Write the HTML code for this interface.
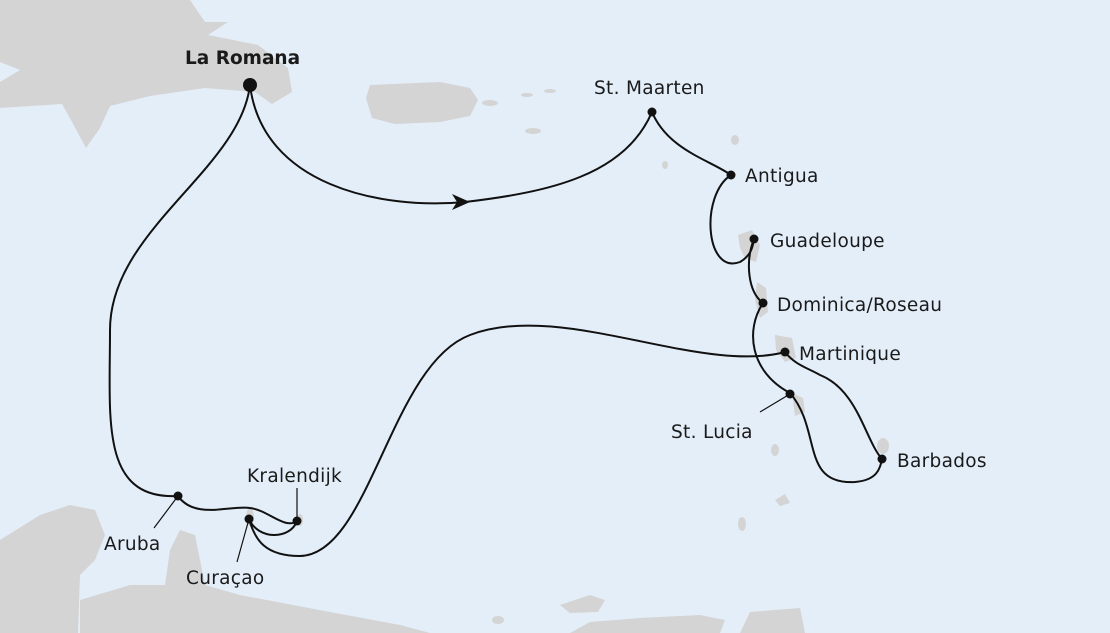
<!DOCTYPE html>
<html><head><meta charset="utf-8"><style>
html,body{margin:0;padding:0;background:#e4eef9}
svg{display:block}
text{font-family:"DejaVu Sans","Liberation Sans",sans-serif;font-size:18.5px;fill:#1a1a1a;letter-spacing:0.3px}
</style></head><body>
<svg width="1110" height="633" viewBox="0 0 1110 633">
<rect width="1110" height="633" fill="#e4eef9"/>
<g fill="#d4d4d4">
<path d="M0,0 L190,0 L205,22 L228,22 L208,35 L258,45 L288,68 L292,92 L272,104 L255,92 L205,88 L150,96 L110,106 L100,128 L86,148 L72,122 L62,104 L0,108 L0,82 L20,70 L0,62 Z"/>
<path d="M370,85 L440,82 L470,88 L478,100 L470,116 L440,122 L395,124 L372,118 L366,98 Z"/>
<ellipse cx="490" cy="103" rx="8" ry="3"/>
<ellipse cx="533" cy="131" rx="8" ry="3"/>
<ellipse cx="527" cy="95" rx="6" ry="2"/>
<ellipse cx="550" cy="91" rx="6" ry="2"/>
<ellipse cx="735" cy="140" rx="4" ry="5"/>
<ellipse cx="665" cy="165" rx="3" ry="4"/>
<path d="M738,235 L752,230 L760,245 L756,262 L745,258 L740,248 Z"/>
<path d="M757,282 L766,288 L768,312 L760,318 L755,300 Z"/>
<path d="M775,335 L792,338 L796,358 L785,362 L776,350 Z"/>
<path d="M792,393 L803,398 L805,412 L795,416 Z"/>
<ellipse cx="775" cy="450" rx="4" ry="6"/>
<ellipse cx="883" cy="446" rx="6" ry="8"/>
<ellipse cx="742" cy="524" rx="4" ry="7"/>
<path d="M0,540 L40,515 L70,505 L95,510 L105,535 L95,560 L80,575 L78,633 L0,633 Z"/>
<path d="M80,600 L130,585 L165,585 L170,550 L180,530 L195,535 L200,560 L205,585 L240,595 L330,612 L400,625 L430,633 L80,633 Z"/>
<path d="M560,605 L590,595 L605,600 L598,612 L570,613 Z"/>
<ellipse cx="498" cy="620" rx="6" ry="4"/>
<path d="M570,633 L590,622 L640,618 L700,615 L725,620 L720,633 Z"/>
<path d="M740,633 L750,612 L800,608 L805,633 Z"/>
<path d="M775,500 L785,494 L790,503 L780,506 Z"/>
<ellipse cx="250" cy="517" rx="4" ry="9"/>
<ellipse cx="300" cy="520" rx="3" ry="6"/>
</g>
<g fill="none" stroke="#111" stroke-width="2">
<path d="M250,85 C262,185 380,210 465,202 C550,192 625,175 652,112 C668,150 710,160 731,175 C700,195 705,275 740,262 C752,255 753,245 754,239 C745,262 748,292 763,303 C745,330 750,372 790,393 C822,430 800,485 855,482 C878,480 880,468 882,459 C865,440 858,390 820,375 C808,368 795,365 785,352 C700,375 560,300 470,335 C390,365 370,555 300,556 C265,556 255,540 249,519 C258,540 290,540 297,521 C285,530 268,510 250,508 C230,505 195,520 178,496 C100,500 110,420 110,330 C110,230 240,170 250,85"/>
</g>
<g stroke="#111" stroke-width="1.2">
<line x1="178" y1="496" x2="154" y2="528"/>
<line x1="249" y1="519" x2="237" y2="562"/>
<line x1="297" y1="521" x2="297" y2="488"/>
<line x1="790" y1="394" x2="760" y2="412"/>
</g>
<path d="M452,194 L470,202 L452,210 L457,202 Z" fill="#111"/>
<g fill="#111">
<circle cx="250" cy="85" r="7"/>
<circle cx="652" cy="112" r="4.5"/>
<circle cx="731" cy="175" r="4.5"/>
<circle cx="754" cy="239" r="4.5"/>
<circle cx="763" cy="303" r="4.5"/>
<circle cx="785" cy="352" r="4.5"/>
<circle cx="790" cy="394" r="4.5"/>
<circle cx="882" cy="459" r="4.5"/>
<circle cx="178" cy="496" r="4.5"/>
<circle cx="249" cy="519" r="4.5"/>
<circle cx="297" cy="521" r="4.5"/>
</g>
<text x="185" y="64" style="font-weight:bold;letter-spacing:0">La Romana</text>
<text x="594" y="94">St. Maarten</text>
<text x="745" y="182">Antigua</text>
<text x="770" y="247">Guadeloupe</text>
<text x="777" y="311">Dominica/Roseau</text>
<text x="799" y="360">Martinique</text>
<text x="671" y="438">St. Lucia</text>
<text x="897" y="467">Barbados</text>
<text x="247" y="482">Kralendijk</text>
<text x="104" y="550">Aruba</text>
<text x="186" y="584">Curaçao</text>
</svg>
</body></html>
